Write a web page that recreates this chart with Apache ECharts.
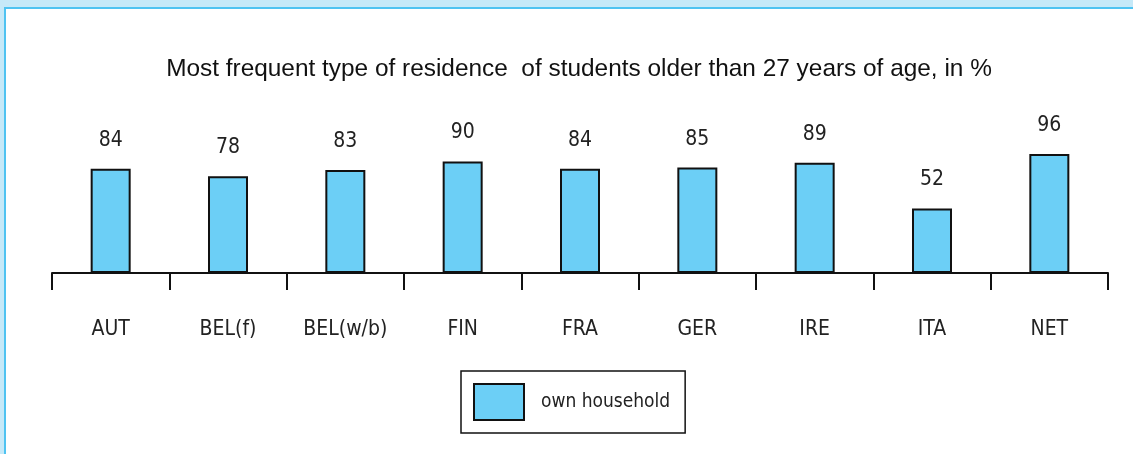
<!DOCTYPE html>
<html>
<head>
<meta charset="utf-8">
<script src="https://cdn.jsdelivr.net/npm/echarts@6/dist/echarts.min.js"></script>
<style>
  html, body { margin: 0; padding: 0; background: #c6e9f8; overflow: hidden; }
  .frame {
    position: absolute; left: 4px; top: 7px; width: 1129px; height: 447px;
    background: #fff; border-left: 2px solid #4fc3f1; border-top: 2px solid #4fc3f1;
  }
  #chart { position: absolute; left: 0; top: 0; width: 1133px; height: 454px; }
</style>
</head>
<body>
<div class="frame"></div>
<div id="chart"></div>
<script>
  var countries = ['AUT', 'BEL(f)', 'BEL(w/b)', 'FIN', 'FRA', 'GER', 'IRE', 'ITA', 'NET']
  var ownHousehold = [84, 78, 83, 90, 84, 85, 89, 52, 96]

  var condensed = '"Liberation Sans Narrow", "DejaVu Sans Condensed", Arial, sans-serif'

  var chart = echarts.init(document.getElementById('chart'), null, { renderer: 'canvas' })
  chart.setOption({
    animation: false,
    title: {
      text: 'Most frequent type of residence  of students older than 27 years of age, in %',
      left: 574,
      textAlign: 'center',
      top: 52,
      textStyle: {
        fontFamily: '"Liberation Sans", Arial, sans-serif',
        fontSize: 24.4,
        fontWeight: 'normal',
        color: '#111'
      }
    },
    legend: {
      data: ['own household'],
      icon: 'rect',
      left: 461,
      top: 371,
      padding: [12, 15, 12, 12],
      borderColor: '#111',
      borderWidth: 1.5,
      itemWidth: 50,
      itemHeight: 36,
      itemStyle: { borderColor: '#111', borderWidth: 2 },
      textStyle: {
        fontFamily: condensed,
        fontSize: 19,
        color: '#222',
        padding: [0, 0, 0, 12]
      }
    },
    grid: {
      left: 52,
      right: 25,
      top: 149,
      bottom: 181
    },
    xAxis: {
      type: 'category',
      data: countries,
      axisLine: { lineStyle: { color: '#111', width: 2 } },
      axisTick: { show: true, interval: 0, length: 17, lineStyle: { color: '#111', width: 2 } },
      axisLabel: {
        margin: 46,
        interval: 0,
        fontFamily: condensed,
        fontSize: 21,
        color: '#222'
      }
    },
    yAxis: {
      type: 'value',
      min: 0,
      max: 100,
      show: false
    },
    series: [
      {
        name: 'own household',
        type: 'bar',
        barWidth: 40,
        data: ownHousehold,
        itemStyle: {
          color: '#6ccff6',
          borderColor: '#111',
          borderWidth: 2
        },
        label: {
          show: true,
          position: 'top',
          distance: 18,
          fontFamily: condensed,
          fontSize: 21,
          color: '#222'
        }
      }
    ]
  })
</script>
</body>
</html>
